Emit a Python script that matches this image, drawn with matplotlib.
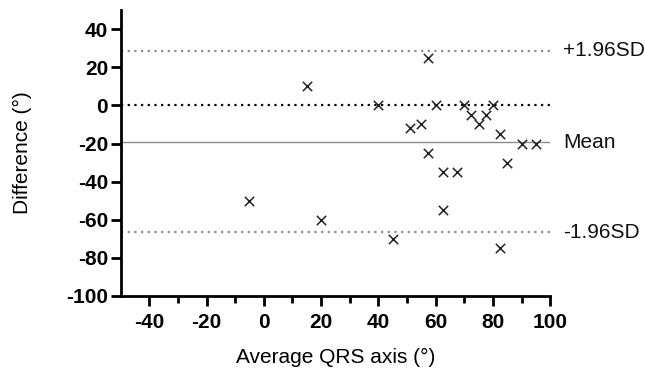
import matplotlib
matplotlib.use("Agg")
import matplotlib.pyplot as plt

plt.rcParams['font.family'] = ['Liberation Sans', 'DejaVu Sans']
plt.rcParams['axes.unicode_minus'] = False

# Bland-Altman data: average QRS axis vs difference
avg_qrs = [15, 57.5, 40, 60, 70, 80, 72.5, 77.5, 75, 51, 55, 82.5, 90, 95,
           57.5, 85, 62.5, 67.5, -5, 20, 62.5, 45, 82.5]
diff = [10, 25, 0, 0, 0, 0, -5, -5, -10, -12, -10, -15, -20, -20,
        -25, -30, -35, -35, -50, -60, -55, -70, -75]

mean_diff = -19.3
upper_loa = 28.6
lower_loa = -66.5

line_labels = ['+1.96SD', 'Mean', '-1.96SD']
xticks = [-40, -20, 0, 20, 40, 60, 80, 100]
xminor = [-30, -10, 10, 30, 50, 70, 90]
yticks = [-100, -80, -60, -40, -20, 0, 20, 40]

fig = plt.figure(figsize=(6.45, 3.76), dpi=100)
ax = fig.add_axes([0.187, 0.213, 0.666, 0.760])

ax.axhline(upper_loa, color='#8c8c8c', linestyle=(0, (1, 2)), linewidth=1.6)
ax.axhline(0, color='black', linestyle=(0, (1, 2)), linewidth=1.6)
ax.axhline(mean_diff, color='#8c8c8c', linestyle='-', linewidth=1.0)
ax.axhline(lower_loa, color='#8c8c8c', linestyle=(0, (1, 2)), linewidth=1.6)

ax.scatter(avg_qrs, diff, marker='x', s=45, color='#222222', linewidths=1.1, zorder=3)

for yv, lab in zip([upper_loa, mean_diff, lower_loa], line_labels):
    ax.text(1.03, yv, lab, transform=ax.get_yaxis_transform(), va='center',
            ha='left', fontsize=15, color='#111111')

ax.set_xlim(-50, 100)
ax.set_ylim(-100, 50)
ax.set_xticks(xticks)
ax.set_xticks(xminor, minor=True)
ax.set_yticks(yticks)

for s in ['top', 'right']:
    ax.spines[s].set_visible(False)
for s in ['left', 'bottom']:
    ax.spines[s].set_linewidth(2.0)

ax.tick_params(axis='both', which='major', length=7, width=2.0, labelsize=15)
ax.tick_params(axis='x', which='major', pad=5)
ax.tick_params(axis='y', which='major', pad=2)
ax.tick_params(axis='x', which='minor', length=5, width=2.0)
for lab in ax.get_xticklabels() + ax.get_yticklabels():
    lab.set_fontweight('bold')

ax.set_xlabel('Average QRS axis (°)', fontsize=15, labelpad=12)
ax.set_ylabel('Difference (°)', fontsize=15)
ax.yaxis.set_label_coords(-0.207, 0.5)

fig.savefig('out.png', dpi=100)
